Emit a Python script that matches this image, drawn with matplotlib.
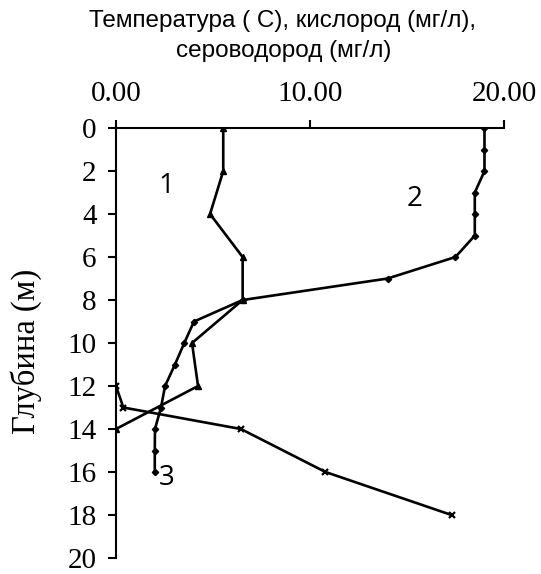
import matplotlib.pyplot as plt

# кислород (1), температура (2), сероводород (3)
depth_o2 = [0, 2, 4, 6, 8, 10, 12, 14]
oxygen = [5.53, 5.53, 4.85, 6.53, 6.53, 3.92, 4.23, 0.0]

depth_t = [0, 1, 2, 3, 4, 5, 6, 7, 8, 9, 10, 11, 12, 13, 14, 15, 16]
temperature = [19.0, 19.0, 19.0, 18.5, 18.5, 18.5, 17.5, 14.0, 6.53,
               4.02, 3.52, 3.04, 2.53, 2.32, 2.01, 2.0, 2.0]

depth_h2s = [12, 13, 14, 16, 18]
h2s = [0.0, 0.38, 6.44, 10.8, 17.3]

x_ticks = [0, 10, 20]
y_ticks = list(range(0, 21, 2))

fig = plt.figure(figsize=(5.41, 5.74), dpi=100)
ax = fig.add_axes([0.2144, 0.0279, 0.717, 0.749])

ax.plot(oxygen, depth_o2, color='black', lw=1.9, marker='^', ms=4.5)
ax.plot(temperature, depth_t, color='black', lw=1.9, marker='D', ms=3.2)
ax.plot(h2s, depth_h2s, color='black', lw=1.9, marker='x', ms=4.5, mew=1.6)

ax.set_xlim(0, 20)
ax.set_ylim(20, 0)
ax.xaxis.tick_top()
ax.set_xticks(x_ticks)
ax.set_xticklabels([f"{v:.2f}" for v in x_ticks], family='Liberation Serif', fontsize=21)
ax.set_yticks(y_ticks)
ax.set_yticklabels([str(v) for v in y_ticks], family='Liberation Serif', fontsize=21)
ax.tick_params(axis='both', direction='out', length=6, width=1.5)
ax.tick_params(axis='x', pad=9)
ax.tick_params(axis='y', pad=8)

for side in ['right', 'bottom']:
    ax.spines[side].set_visible(False)
for side in ['left', 'top']:
    ax.spines[side].set_linewidth(1.5)

# подпись оси X в две строки над графиком
fig.text(0.523, 0.953, "Температура ( С), кислород (мг/л),",
         family='Liberation Sans', fontsize=17.5, ha='center', va='baseline')
fig.text(0.525, 0.9007, "сероводород (мг/л)",
         family='Liberation Sans', fontsize=17.5, ha='center', va='baseline')

ax.set_ylabel("Глубина (м)", family='Liberation Serif', fontsize=23.5)
ax.yaxis.set_label_coords(-0.19, 0.48)

ax.text(2.58, 2.7, "1", fontsize=20, family='Open Sans', ha='center', va='center')
ax.text(15.4, 3.3, "2", fontsize=20, family='Open Sans', ha='center', va='center')
ax.text(2.63, 16.3, "3", fontsize=20, family='Open Sans', ha='center', va='center')

fig.savefig('out.png', dpi=100)
